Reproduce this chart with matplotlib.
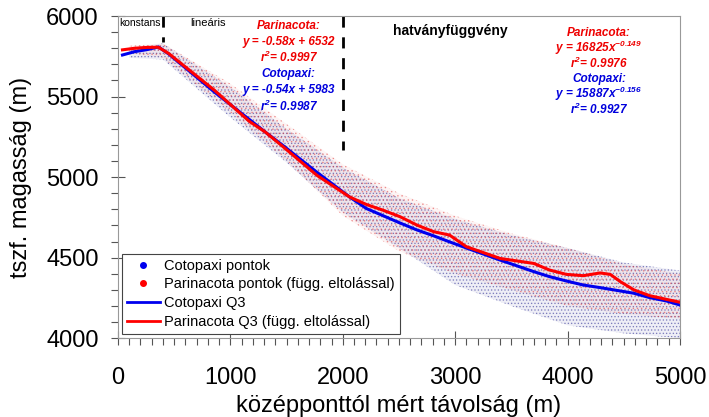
import numpy as np
import matplotlib.pyplot as plt
from matplotlib.lines import Line2D
from matplotlib.ticker import MultipleLocator

plt.rcParams['font.family'] = ['Liberation Sans', 'DejaVu Sans']
plt.rcParams['hatch.linewidth'] = 0.6
plt.rcParams['mathtext.fontset'] = 'custom'
plt.rcParams['mathtext.rm'] = 'Liberation Sans:bold:italic'
plt.rcParams['mathtext.it'] = 'Liberation Sans:bold:italic'
plt.rcParams['mathtext.bf'] = 'Liberation Sans:bold:italic'

# Q3 görbék (leolvasott értékek)
cot_x = [40, 150, 255, 360, 450, 860, 1310, 1470, 1770, 2060, 2210, 2360, 2510,
         2660, 2810, 2950, 3100, 3400, 3700, 3840, 3990, 4140, 4290, 4470, 4590,
         4730, 4880, 5000]
cot_y = [5758, 5779, 5791, 5808, 5765, 5527, 5280, 5195, 5030, 4877, 4805, 4760,
         4715, 4672, 4635, 4598, 4560, 4485, 4413, 4382, 4355, 4330, 4314, 4293,
         4279, 4252, 4231, 4206]

par_x = [40, 150, 255, 360, 450, 860, 1170, 1310, 1470, 1770, 2060, 2210, 2360,
         2510, 2660, 2810, 2950, 3100, 3400, 3700, 3840, 3990, 4140, 4290, 4380,
         4470, 4590, 4730, 4880, 5000]
par_y = [5790, 5800, 5805, 5806, 5768, 5538, 5345, 5280, 5188, 5011, 4877, 4830,
         4794, 4754, 4702, 4661, 4640, 4568, 4495, 4464, 4423, 4396, 4388, 4405,
         4396, 4351, 4300, 4264, 4241, 4223]

# pontfelhők kiterjedése (becsült alsó/felső határ)
cloud_x = [100, 400, 1000, 1500, 2000, 2500, 3000, 3500, 4000, 4500, 5000]
cot_hi = [5800, 5830, 5560, 5300, 5060, 4870, 4740, 4640, 4560, 4470, 4420]
cot_lo = [5740, 5730, 5370, 5090, 4780, 4560, 4330, 4200, 4080, 4030, 4000]
par_hi = [5815, 5830, 5580, 5330, 5080, 4900, 4760, 4650, 4560, 4460, 4400]
par_lo = [5770, 5740, 5400, 5100, 4760, 4540, 4400, 4300, 4200, 4150, 4120]

zone_x = [400, 2000]
zone_bottom = [5840, 5170]

fig = plt.figure(figsize=(7.09, 4.17), dpi=100)
ax = fig.add_axes([0.1664, 0.189, 0.7926, 0.7726])

ax.fill_between(cloud_x, cot_lo, cot_hi, facecolor='#1a1a8a', alpha=0.07, lw=0)
ax.fill_between(cloud_x, cot_lo, cot_hi, facecolor='none', edgecolor='#1a1a8a',
                hatch='.....', lw=0, alpha=0.45)
ax.fill_between(cloud_x, par_lo, par_hi, facecolor='#e03030', alpha=0.05, lw=0)
ax.fill_between(cloud_x, par_lo, par_hi, facecolor='none', edgecolor='#e03030',
                hatch='....', lw=0, alpha=0.4)

ax.plot(cot_x, cot_y, color='#0000ee', lw=2.2)
ax.plot(par_x, par_y, color='#ff0000', lw=2.2)

for zx, zb in zip(zone_x, zone_bottom):
    ax.plot([zx, zx], [6000, zb], color='black', lw=2, linestyle=(0, (4, 3.5)))

ax.text(15, 5955, 'konstans', fontsize=7.5, va='center', ha='left')
ax.text(800, 5955, 'lineáris', fontsize=8, va='center', ha='center')
ax.text(2960, 5910, 'hatványfüggvény', fontsize=10, fontweight='bold',
        va='center', ha='center')

eq = dict(fontsize=8.5, fontweight='bold', fontstyle='italic', ha='center', va='center')
ax.text(1520, 5940, 'Parinacota:', color='#ee0000', **eq)
ax.text(1520, 5840, 'y = -0.58x + 6532', color='#ee0000', **eq)
ax.text(1520, 5740, 'r$^{2}$= 0.9997', color='#ee0000', **eq)
ax.text(1520, 5640, 'Cotopaxi:', color='#0000dd', **eq)
ax.text(1520, 5540, 'y = -0.54x + 5983', color='#0000dd', **eq)
ax.text(1520, 5440, 'r$^{2}$= 0.9987', color='#0000dd', **eq)

ax.text(4280, 5895, 'Parinacota:', color='#ee0000', **eq)
ax.text(4280, 5800, 'y = 16825x$^{-0.149}$', color='#ee0000', **eq)
ax.text(4280, 5705, 'r$^{2}$= 0.9976', color='#ee0000', **eq)
ax.text(4280, 5610, 'Cotopaxi:', color='#0000dd', **eq)
ax.text(4280, 5515, 'y = 15887x$^{-0.156}$', color='#0000dd', **eq)
ax.text(4280, 5420, 'r$^{2}$= 0.9927', color='#0000dd', **eq)

ax.set_xlim(0, 5000)
ax.set_ylim(4000, 6000)
ax.xaxis.set_major_locator(MultipleLocator(1000))
ax.xaxis.set_minor_locator(MultipleLocator(100))
ax.yaxis.set_major_locator(MultipleLocator(500))
ax.yaxis.set_minor_locator(MultipleLocator(100))
ax.tick_params(which='major', direction='inout', length=10, width=0.8,
               color='#555555', labelsize=17)
ax.tick_params(axis='x', which='major', pad=16)
ax.tick_params(axis='y', which='major', pad=9)
ax.tick_params(which='minor', direction='out', length=5, width=0.8, color='#555555')
for s in ax.spines.values():
    s.set_color('#999999')

ax.set_xlabel('középponttól mért távolság (m)', fontsize=17, labelpad=4)
ax.set_ylabel('tszf. magasság (m)', fontsize=17, labelpad=10)

handles = [
    Line2D([], [], marker='o', color='#0000ee', ls='none', markersize=4),
    Line2D([], [], marker='o', color='#ff0000', ls='none', markersize=4),
    Line2D([], [], color='#0000ee', lw=2),
    Line2D([], [], color='#ff0000', lw=2),
]
labels = ['Cotopaxi pontok', 'Parinacota pontok (függ. eltolással)',
          'Cotopaxi Q3', 'Parinacota Q3 (függ. eltolással)']
leg = ax.legend(handles, labels, loc='lower left', fontsize=10.5, fancybox=False,
                edgecolor='#444444', framealpha=1, borderpad=0.35, labelspacing=0.32,
                handlelength=2.2, handletextpad=0.3, borderaxespad=0.3)
leg.get_frame().set_linewidth(0.8)

fig.savefig('out.png', dpi=100)
